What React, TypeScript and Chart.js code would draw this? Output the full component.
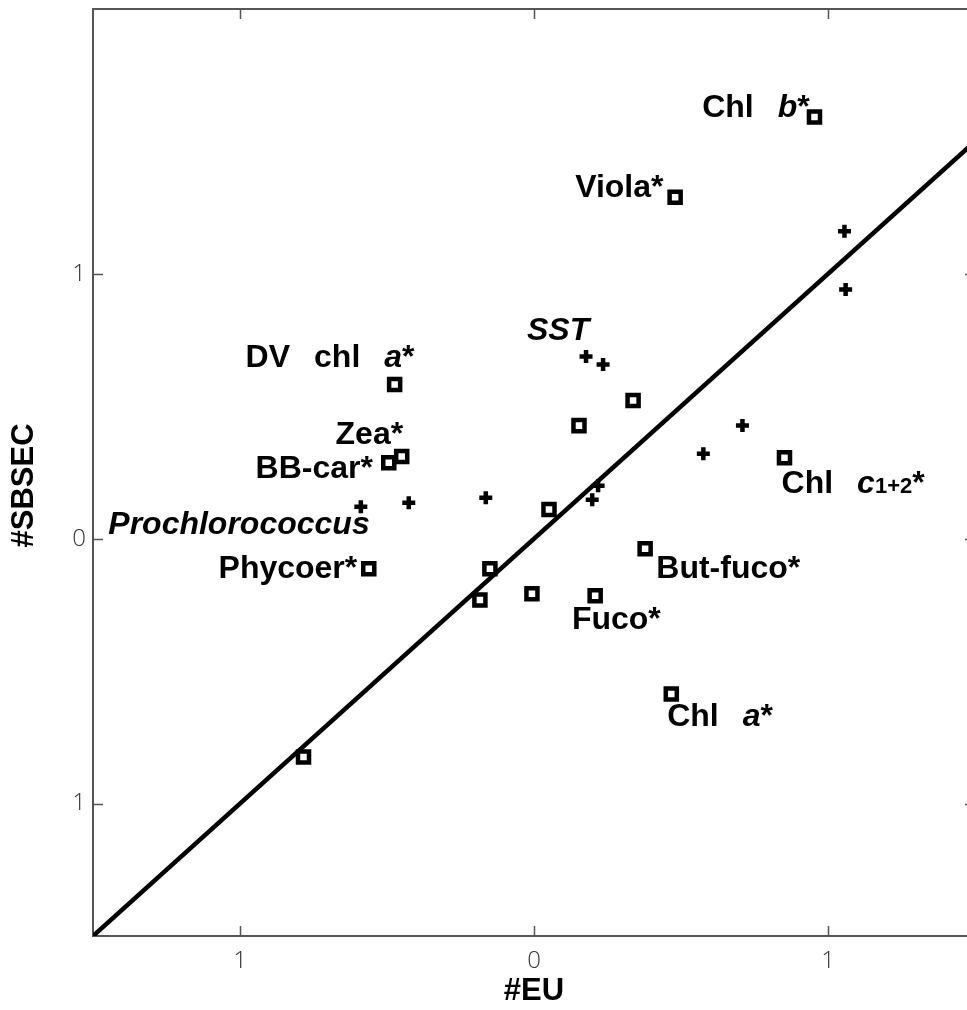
import React, { useEffect, useRef } from 'react';
import { Chart, registerables } from 'chart.js';

Chart.register(...registerables);

// ---- data ----
const squareX = [0.954, 0.48, -0.474, -0.45, -0.494, -0.562, 0.337, 0.153, 0.852, 0.051, 0.378, -0.15, -0.184, -0.007, 0.208, 0.467, -0.784];
const squareY = [1.592, 1.289, 0.582, 0.31, 0.287, -0.113, 0.522, 0.427, 0.306, 0.11, -0.038, -0.113, -0.231, -0.208, -0.215, -0.586, -0.824];

const plusX = [1.056, 1.06, 0.177, 0.235, 0.709, 0.576, -0.164, 0.198, 0.218, -0.426, -0.589];
const plusY = [1.161, 0.941, 0.688, 0.658, 0.427, 0.321, 0.155, 0.147, 0.2, 0.136, 0.121];

const fitX = [-1.5, 1.5];
const fitY = [-1.5, 1.5];

const xTicks = [-1, 0, 1];
const xTickLabels = ['1', '0', '1'];
const yTicks = [-1, 0, 1];
const yTickLabels = ['1', '0', '1'];

const xTitle = '#EU';
const yTitle = '#SBSEC';

// annotation labels: "/" toggles italic, "{...}" small text, double space = wide gap
const labelTexts = ['Chl  /b/*', 'Viola*', '/SST/', 'DV  chl  /a/*', 'Zea*', 'BB-car*', '/Prochlorococcus/', 'Phycoer*', 'Chl  /c/{1+2}*', 'But-fuco*', 'Fuco*', 'Chl  /a/*'];
const labelX = [0.572, 0.14, -0.024, -0.981, -0.675, -0.947, -1.448, -1.073, 0.842, 0.416, 0.129, 0.453];
const labelY = [1.592, 1.289, 0.749, 0.647, 0.359, 0.231, 0.019, -0.147, 0.174, -0.147, -0.34, -0.707];

const FONT = '"Liberation Sans", Arial, Helvetica, sans-serif';

function drawRich(ctx: CanvasRenderingContext2D, s: string, x: number, y: number) {
  let italic = false;
  let small = false;
  let cx = x;
  let buf = '';
  const flush = () => {
    if (!buf) return;
    ctx.font = `${italic ? 'italic ' : ''}bold ${small ? 22 : 32}px ${FONT}`;
    ctx.fillText(buf, cx, y);
    cx += ctx.measureText(buf).width;
    buf = '';
  };
  for (let i = 0; i < s.length; i++) {
    const ch = s[i];
    if (ch === '/') { flush(); italic = !italic; }
    else if (ch === '{') { flush(); small = true; }
    else if (ch === '}') { flush(); small = false; }
    else if (ch === ' ' && s[i + 1] === ' ') { flush(); cx += 24; i++; }
    else buf += ch;
  }
  flush();
}

const framePlugin = {
  id: 'frame',
  beforeDatasetsDraw(chart: any) {
    const { ctx, chartArea: a, scales } = chart;
    ctx.save();
    ctx.strokeStyle = '#555';
    ctx.lineWidth = 2;
    ctx.beginPath();
    ctx.moveTo(a.left, a.top);
    ctx.lineTo(a.right, a.top);
    ctx.lineTo(a.right, a.bottom);
    ctx.stroke();
    ctx.lineWidth = 1.5;
    ctx.beginPath();
    for (const v of xTicks) {
      const px = Math.round(scales.x.getPixelForValue(v)) + 0.5;
      ctx.moveTo(px, a.bottom); ctx.lineTo(px, a.bottom - 10);
      ctx.moveTo(px, a.top); ctx.lineTo(px, a.top + 10);
    }
    for (const v of yTicks) {
      const py = Math.round(scales.y.getPixelForValue(v)) + 0.5;
      ctx.moveTo(a.left, py); ctx.lineTo(a.left + 10, py);
      ctx.moveTo(a.right, py); ctx.lineTo(a.right - 10, py);
    }
    ctx.stroke();
    ctx.restore();
  },
};

const labelPlugin = {
  id: 'labels',
  afterDatasetsDraw(chart: any) {
    const { ctx, scales } = chart;
    ctx.save();
    ctx.fillStyle = '#000';
    ctx.textAlign = 'left';
    ctx.textBaseline = 'alphabetic';
    labelTexts.forEach((t, i) => {
      drawRich(ctx, t, scales.x.getPixelForValue(labelX[i]), scales.y.getPixelForValue(labelY[i]));
    });
    ctx.restore();
  },
};

export default function App() {
  const ref = useRef<HTMLCanvasElement>(null);
  useEffect(() => {
    if (!ref.current) return;
    const chart = new Chart(ref.current, {
      type: 'scatter',
      data: {
        datasets: [
          {
            label: 'squares',
            data: squareX.map((x, i) => ({ x, y: squareY[i] })),
            pointStyle: 'rect',
            pointRadius: 7.8,
            pointBorderWidth: 4.5,
            pointBackgroundColor: '#fff',
            pointBorderColor: '#000',
          },
          {
            label: 'plus',
            data: plusX.map((x, i) => ({ x, y: plusY[i] })),
            pointStyle: 'cross',
            pointRadius: 6.5,
            pointBorderWidth: 4.5,
            pointBorderColor: '#000',
            pointBackgroundColor: '#000',
          },
          {
            label: 'fit',
            data: fitX.map((x, i) => ({ x, y: fitY[i] })),
            showLine: true,
            borderColor: '#000',
            borderWidth: 4.5,
            pointRadius: 0,
          },
        ],
      },
      options: {
        responsive: false,
        animation: false,
        devicePixelRatio: 1,
        layout: { autoPadding: false, padding: { top: 9, right: 25, left: 0, bottom: 0 } },
        plugins: { legend: { display: false }, tooltip: { enabled: false } },
        scales: {
          x: {
            type: 'linear',
            min: -1.5,
            max: 1.5,
            afterFit: (s: any) => { s.height = 74; s.paddingLeft = 0; s.paddingRight = 0; },
            afterBuildTicks: (s: any) => { s.ticks = xTicks.map((v) => ({ value: v })); },
            grid: { display: false, drawTicks: false },
            border: { display: true, color: '#555', width: 2 },
            ticks: {
              padding: 11,
              color: '#333',
              font: { family: '"Open Sans", "DejaVu Sans", sans-serif', size: 24, weight: '300' },
              callback: (v: any) => xTickLabels[xTicks.indexOf(Number(v))] ?? '',
              maxRotation: 0,
            },
            title: {
              display: true,
              text: xTitle,
              color: '#000',
              font: { family: FONT, size: 31, weight: 'bold' },
              padding: { top: 0, bottom: 0 },
            },
          },
          y: {
            type: 'linear',
            min: -1.5,
            max: 2,
            afterFit: (s: any) => { s.width = 93; s.paddingTop = 0; s.paddingBottom = 0; },
            afterBuildTicks: (s: any) => { s.ticks = yTicks.map((v) => ({ value: v })); },
            grid: { display: false, drawTicks: false },
            border: { display: true, color: '#555', width: 2 },
            ticks: {
              padding: 7,
              color: '#333',
              font: { family: '"Open Sans", "DejaVu Sans", sans-serif', size: 24, weight: '300' },
              callback: (v: any) => yTickLabels[yTicks.indexOf(Number(v))] ?? '',
            },
            title: {
              display: true,
              text: yTitle + '   ',
              color: '#000',
              font: { family: FONT, size: 31, weight: 'bold' },
              padding: { top: 6, bottom: 0 },
            },
          },
        },
      },
      plugins: [framePlugin, labelPlugin],
    });
    return () => chart.destroy();
  }, []);

  return (
    <div style={{ position: 'fixed', left: 0, top: 0, width: 967, height: 1010, overflow: 'hidden', background: '#fff' }}>
      <canvas ref={ref} width={1000} height={1010} style={{ display: 'block' }} />
    </div>
  );
}
